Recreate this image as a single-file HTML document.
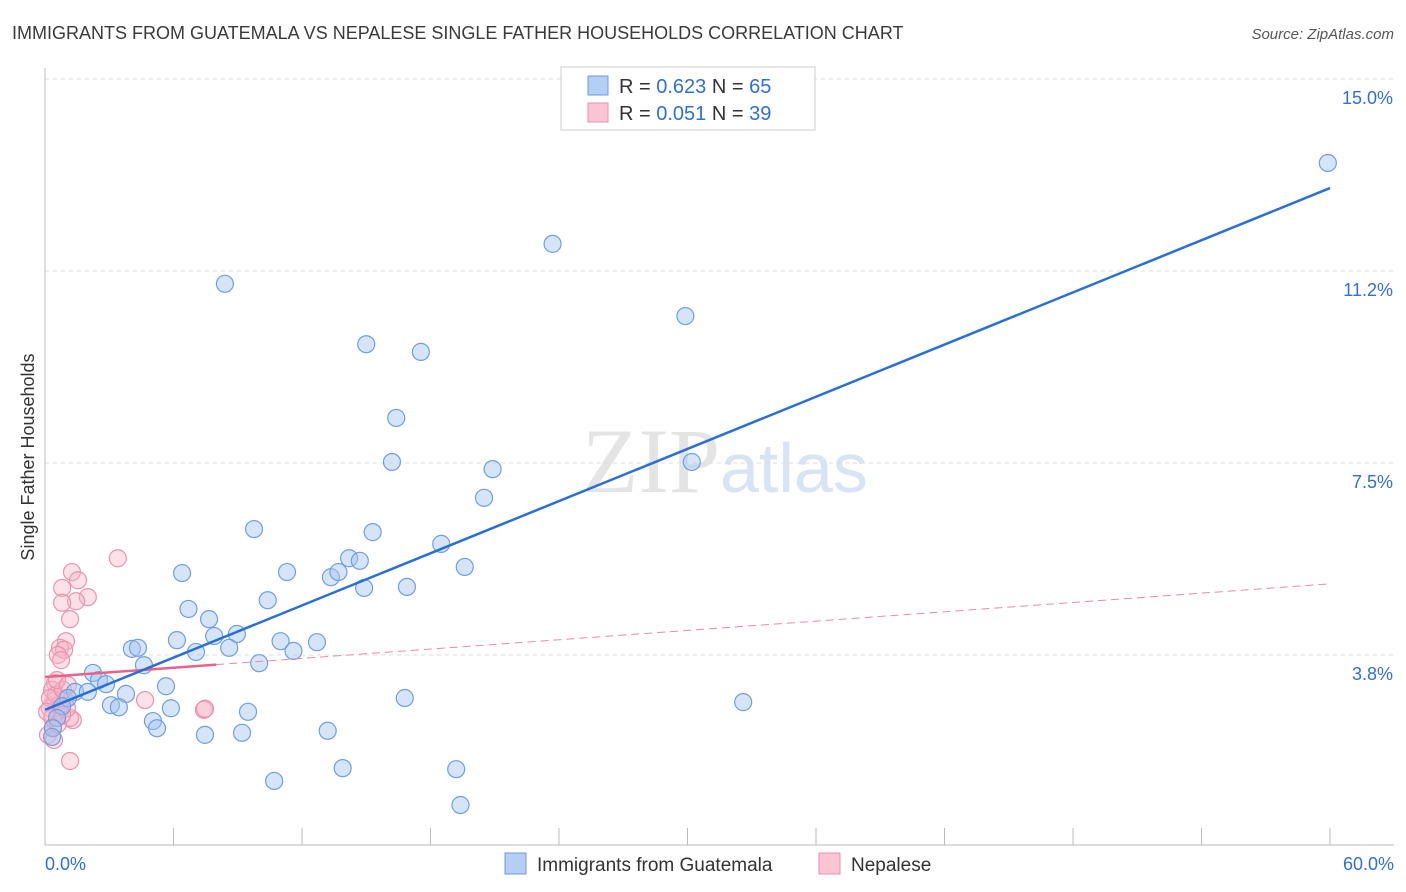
<!DOCTYPE html>
<html><head><meta charset="utf-8"><style>
body{margin:0;background:#fff;font-family:"Liberation Sans",sans-serif;}
svg{display:block}
</style></head><body>
<svg id="c" width="1406" height="892">
<text x="12" y="39" font-size="18" fill="#3a3a3a">IMMIGRANTS FROM GUATEMALA VS NEPALESE SINGLE FATHER HOUSEHOLDS CORRELATION CHART</text>
<text x="1394" y="39" font-size="15" fill="#555" text-anchor="end" font-style="italic">Source: ZipAtlas.com</text>
<text x="720" y="492" font-size="92" fill="#e4e4e4" text-anchor="end" font-family="Liberation Serif">ZIP</text>
<text x="720" y="492" font-size="70" fill="#d6e4f6">atlas</text>
<text transform="translate(34,457) rotate(-90)" font-size="18" fill="#333" text-anchor="middle">Single Father Households</text>
<g id="grid"></g><g id="marks"></g>
<g>
<rect x="561" y="67" width="254" height="63" fill="#fff" stroke="#ccc"/>
<rect x="588" y="76" width="20" height="19" fill="#b4cef4" stroke="#6a9be0"/>
<rect x="588" y="103" width="20" height="19" fill="#f9c4d4" stroke="#ea8fab"/>
<text x="619" y="93" font-size="20" fill="#333">R = <tspan fill="#2f6fd6">0.623</tspan>   N = <tspan fill="#2f6fd6">65</tspan></text>
<text x="619" y="120" font-size="20" fill="#333">R = <tspan fill="#2f6fd6">0.051</tspan>   N = <tspan fill="#2f6fd6">39</tspan></text>
</g>
<g>
<rect x="505" y="853" width="21" height="21" fill="#b4cef4" stroke="#6a9be0"/>
<text x="537" y="871" font-size="19" fill="#333">Immigrants from Guatemala</text>
<rect x="819" y="853" width="21" height="21" fill="#f9c4d4" stroke="#ea8fab"/>
<text x="851" y="871" font-size="19" fill="#333">Nepalese</text>
</g>
</svg>
<script>
const yTicks=[3.75,7.5,11.25,15];
const yTickLabels=["3.8%","7.5%","11.2%","15.0%"];
const xTickVals=[0,6,12,18,24,30,36,42,48,54,60];
const xEndLabels=["0.0%","60.0%"];
const blueX=[59.9,23.7,8.4,29.9,15.0,17.55,16.4,16.2,20.9,30.2,20.5,9.76,15.3,18.5,14.2,14.7,19.6,6.4,11.3,13.35,13.7,14.9,16.9,10.4,6.7,7.66,8.96,7.9,6.16,11.0,12.7,4.06,4.34,7.05,8.6,11.6,4.62,10.0,2.24,2.52,2.85,5.65,1.4,2.0,3.78,1.07,16.8,32.6,3.08,3.45,5.88,9.48,0.8,5.04,5.23,13.2,7.47,9.2,0.56,0.37,0.33,13.9,19.2,10.7,19.4];
const blueY=[13.36,11.78,11.0,10.37,9.82,9.67,8.38,7.52,7.38,7.52,6.82,6.21,6.15,5.92,5.64,5.59,5.47,5.35,5.37,5.27,5.37,5.06,5.08,4.82,4.65,4.45,4.16,4.12,4.04,4.02,4.0,3.87,3.89,3.81,3.89,3.83,3.55,3.59,3.40,3.26,3.18,3.14,3.03,3.03,2.99,2.91,2.91,2.83,2.77,2.73,2.71,2.64,2.75,2.46,2.32,2.27,2.19,2.23,2.52,2.32,2.15,1.54,1.52,1.29,0.82];
const pinkX=[3.4,1.26,1.54,0.8,2.0,1.45,0.8,1.17,0.98,0.7,0.89,0.6,0.75,4.67,7.42,7.47,1.3,1.17,1.17,0.47,0.33,0.47,0.23,0.6,0.33,0.7,0.37,0.93,0.14,0.51,1.03,0.23,0.6,0.8,0.42,0.1,0.84,0.56,1.07];
const pinkY=[5.64,5.37,5.21,5.06,4.88,4.80,4.77,4.45,4.02,3.89,3.85,3.75,3.65,2.87,2.68,2.70,2.48,2.52,1.68,3.20,3.07,2.87,2.71,2.64,2.52,2.77,2.34,2.87,2.19,2.97,2.71,2.91,2.40,2.58,2.09,2.64,3.07,3.26,3.16];
const blueFit=[2.68,12.87]; // y at x=0 and x=60
const pinkFit=[3.32,5.14];
const pinkSolidEnd=8;
const X=v=>45+v*(1285/60), Y=v=>847-v*51.2;
const NS="http://www.w3.org/2000/svg";
function mk(p,t,a){const e=document.createElementNS(NS,t);for(const k in a)e.setAttribute(k,a[k]);p.appendChild(e);return e;}
const g=document.getElementById('grid'), m=document.getElementById('marks');
yTicks.forEach((v,i)=>{
 const l=mk(g,'line',{x1:45,x2:1394,y1:Y(v),y2:Y(v),stroke:'#ddd','stroke-dasharray':'4,4'});
 
 
 const t=mk(g,'text',{x:1393,y:Y(v)+25,'font-size':18,fill:'#2f6fd6','text-anchor':'end'});
 t.textContent=yTickLabels[i];
 
 
});
const ax=mk(g,'line',{x1:45,x2:1394,y1:845,y2:845,stroke:'#bbb'});


const ay=mk(g,'line',{x1:45,x2:45,y1:68,y2:845,stroke:'#bbb'});


xTickVals.forEach(v=>{const t=mk(g,'line',{x1:X(v),x2:X(v),y1:828,y2:845,stroke:'#bbb'});
 
 });
[[0,'start',45],[60,'end',1394]].forEach((d,i)=>{const t=mk(g,'text',{x:d[2],y:870,'font-size':18,fill:'#2f6fd6','text-anchor':d[1]});t.textContent=xEndLabels[i];
 
 });
pinkX.forEach((x,i)=>{const c=mk(m,'circle',{cx:X(x),cy:Y(pinkY[i]),r:8.5,fill:'rgba(248,180,200,0.4)',stroke:'#ec93ae','stroke-width':1.2});
 
 });
blueX.forEach((x,i)=>{const c=mk(m,'circle',{cx:X(x),cy:Y(blueY[i]),r:8.5,fill:'rgba(164,196,240,0.45)',stroke:'#6f9fe2','stroke-width':1.2});
 
 });
const pAt=x=>pinkFit[0]+(pinkFit[1]-pinkFit[0])*x/60;
const pd=mk(m,'line',{x1:X(pinkSolidEnd),y1:Y(pAt(pinkSolidEnd)),x2:X(60),y2:Y(pinkFit[1]),stroke:'#e88aa6','stroke-width':1,'stroke-dasharray':'8,5'});


const ps=mk(m,'line',{x1:X(0),y1:Y(pinkFit[0]),x2:X(pinkSolidEnd),y2:Y(pAt(pinkSolidEnd)),stroke:'#e8628a','stroke-width':2.5});


const bl=mk(m,'line',{x1:X(0),y1:Y(blueFit[0]),x2:X(60),y2:Y(blueFit[1]),stroke:'#2a6fd8','stroke-width':2.5});


</script>
</body></html>
